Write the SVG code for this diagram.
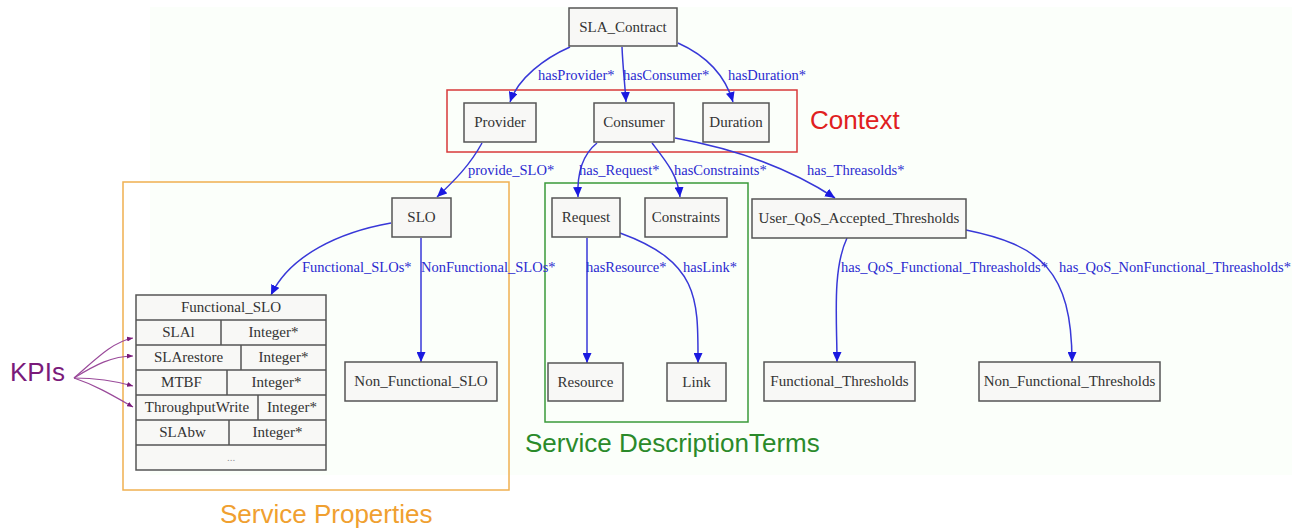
<svg xmlns="http://www.w3.org/2000/svg" width="1292" height="531" viewBox="0 0 1292 531">
<defs>
<marker id="ah" viewBox="0 0 10 10" refX="10" refY="5" markerWidth="10" markerHeight="9" markerUnits="userSpaceOnUse" orient="auto" preserveAspectRatio="none"><path d="M0,0 L10,5 L0,10 z" fill="#1a1ae0"/></marker>
<marker id="ahp" viewBox="0 0 10 10" refX="10" refY="5" markerWidth="6" markerHeight="5" markerUnits="userSpaceOnUse" orient="auto" preserveAspectRatio="none"><path d="M0,0 L10,5 L0,10 z" fill="#7a1a7a"/></marker>
<style>
.n rect{fill:#f8f8f6;stroke:#555;stroke-width:1.5}
.n text,.t text{font-family:"Liberation Serif",serif;font-size:15px;fill:#333;text-anchor:middle}
.t line,.t rect{stroke:#555;stroke-width:1.5}
.e path{fill:none;stroke:#3838d8;stroke-width:1.5;marker-end:url(#ah)}
.l text{font-family:"Liberation Serif",serif;font-size:14.5px;fill:#2a2ad0}
.k path{fill:none;stroke:#9a4a9a;stroke-width:1.2;marker-end:url(#ahp)}
.big{font-family:"Liberation Sans",Arial,sans-serif;font-size:26px}
</style>
</defs>
<rect x="0" y="0" width="1292" height="531" fill="#fff"/>
<rect x="150" y="7" width="1142" height="468" fill="#fbfffa"/>
<g id="clusters" fill="none" stroke-width="1.5">
<rect x="447" y="90" width="350" height="62" stroke="#d83a3a"/>
<rect x="123" y="182" width="386" height="308" stroke="#f0b050"/>
<rect x="545" y="183" width="203" height="239" stroke="#3a9a3a"/>
</g>
<text class="big" x="810" y="129" fill="#e02020">Context</text>
<text class="big" x="220" y="523" fill="#f0a030">Service Properties</text>
<text class="big" x="525" y="452" fill="#2a8a2a">Service DescriptionTerms</text>
<text class="big" x="10" y="381" fill="#7a1a7a">KPIs</text>
<g id="connectors">
<g class="e">
<path d="M570,47 C545,58 518,78 510,102"/>
<path d="M622,47 C623,70 625,85 626,102"/>
<path d="M678,43 C705,55 725,75 733,102"/>
<path d="M482,143 C470,165 455,180 437,197"/>
<path d="M597,143 C582,155 577,175 578,197"/>
<path d="M652,143 C665,160 678,175 680,197"/>
<path d="M675,138 C720,146 780,162 835,198"/>
<path d="M391,223 C340,232 290,255 271,295"/>
<path d="M421,238 L421,362"/>
<path d="M587,238 L587,363"/>
<path d="M620,233 C700,262 698,300 698,363"/>
<path d="M847,238 C832,270 837,320 837,362"/>
<path d="M966,230 C1040,245 1072,270 1072,362"/>
</g>
<g class="k">
<path d="M74,378 C95,360 112,342 133,338"/>
<path d="M74,378 C95,365 112,356 133,356"/>
<path d="M74,378 C95,378 112,380 133,386"/>
<path d="M74,378 C95,385 112,395 133,407"/>
</g>
<g class="l">
<text x="538" y="80">hasProvider*</text>
<text x="623" y="80">hasConsumer*</text>
<text x="728" y="80">hasDuration*</text>
<text x="468" y="175">provide_SLO*</text>
<text x="579" y="175">has_Request*</text>
<text x="674" y="175">hasConstraints*</text>
<text x="807" y="175">has_Threasolds*</text>
<text x="302" y="272">Functional_SLOs*</text>
<text x="421" y="272">NonFunctional_SLOs*</text>
<text x="586" y="272">hasResource*</text>
<text x="683" y="272">hasLink*</text>
<text x="841" y="272">has_QoS_Functional_Threasholds*</text>
<text x="1059" y="272">has_QoS_NonFunctional_Threasholds*</text>
</g>
</g>
<g id="SLA_Contract" class="n"><rect x="569" y="8" width="108" height="38"/><text x="623" y="32">SLA_Contract</text></g>
<g id="Provider" class="n"><rect x="464" y="103" width="72" height="39"/><text x="500" y="127">Provider</text></g>
<g id="Consumer" class="n"><rect x="594" y="103" width="80" height="39"/><text x="634" y="127">Consumer</text></g>
<g id="Duration" class="n"><rect x="703" y="103" width="66" height="39"/><text x="736" y="127">Duration</text></g>
<g id="SLO" class="n"><rect x="392" y="198" width="59" height="39"/><text x="421.5" y="222">SLO</text></g>
<g id="Request" class="n"><rect x="552" y="198" width="68" height="39"/><text x="586" y="222">Request</text></g>
<g id="Constraints" class="n"><rect x="645" y="198" width="82" height="39"/><text x="686" y="222">Constraints</text></g>
<g id="User_QoS_Accepted_Thresholds" class="n"><rect x="752" y="199" width="214" height="39"/><text x="859" y="223">User_QoS_Accepted_Thresholds</text></g>
<g id="Functional_SLO" class="n t">
<rect x="136" y="295" width="190" height="175"/>
<line x1="136" y1="320" x2="326" y2="320"/>
<line x1="136" y1="345" x2="326" y2="345"/>
<line x1="136" y1="370" x2="326" y2="370"/>
<line x1="136" y1="395" x2="326" y2="395"/>
<line x1="136" y1="420" x2="326" y2="420"/>
<line x1="136" y1="445" x2="326" y2="445"/>
<line x1="221" y1="320" x2="221" y2="345"/>
<line x1="241" y1="345" x2="241" y2="370"/>
<line x1="227" y1="370" x2="227" y2="395"/>
<line x1="258" y1="395" x2="258" y2="420"/>
<line x1="229" y1="420" x2="229" y2="445"/>
<text x="231" y="312">Functional_SLO</text>
<text x="178.5" y="337">SLAl</text><text x="273.5" y="337">Integer*</text>
<text x="188.5" y="362">SLArestore</text><text x="283.5" y="362">Integer*</text>
<text x="181.5" y="387">MTBF</text><text x="276.5" y="387">Integer*</text>
<text x="197" y="412">ThroughputWrite</text><text x="292" y="412">Integer*</text>
<text x="182.5" y="437">SLAbw</text><text x="277.5" y="437">Integer*</text>
<text x="231" y="461" style="fill:#999;font-size:11px">...</text>
</g>
<g id="Non_Functional_SLO" class="n"><rect x="345" y="362" width="152" height="39"/><text x="421" y="386">Non_Functional_SLO</text></g>
<g id="Resource" class="n"><rect x="548" y="363" width="75" height="38"/><text x="585.5" y="387">Resource</text></g>
<g id="Link" class="n"><rect x="667" y="363" width="59" height="38"/><text x="696.5" y="387">Link</text></g>
<g id="Functional_Thresholds" class="n"><rect x="764" y="362" width="151" height="39"/><text x="839.5" y="386">Functional_Thresholds</text></g>
<g id="Non_Functional_Thresholds" class="n"><rect x="979" y="362" width="181" height="39"/><text x="1069.5" y="386">Non_Functional_Thresholds</text></g>
</svg>
